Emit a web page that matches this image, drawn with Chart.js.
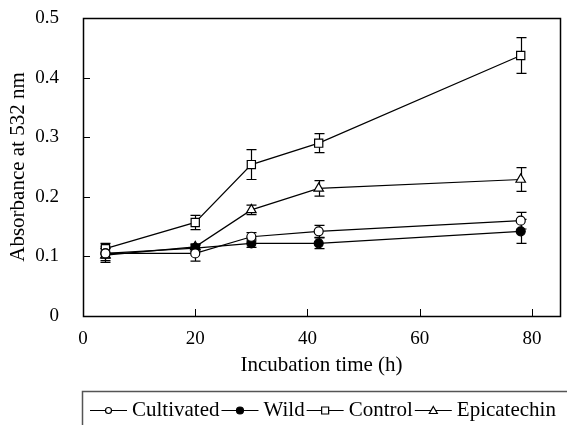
<!DOCTYPE html>
<html>
<head>
<meta charset="utf-8">
<script src="https://cdn.jsdelivr.net/npm/chart.js@4"></script>
<style>
  html, body { margin: 0; padding: 0; background: #fff; }
  #wrap { width: 567px; height: 425px; }
</style>
</head>
<body>
<div id="wrap"><canvas id="absChart" width="567" height="425"></canvas></div>
<script>
// Incubation times (h)
const hours = [4, 20, 30, 42, 78];

// Absorbance at 532 nm, with error bars
const cultivated = [0.105, 0.105, 0.133, 0.142, 0.160];
const cultivatedErr = [0.012, 0.013, 0.007, 0.010, 0.014];
const wild = [0.105, 0.114, 0.122, 0.122, 0.142];
const wildErr = [0.008, 0.006, 0.007, 0.009, 0.020];
const control = [0.113, 0.157, 0.254, 0.290, 0.437];
const controlErr = [0.009, 0.012, 0.025, 0.016, 0.030];
const epicatechin = [0.102, 0.116, 0.178, 0.214, 0.229];
const epicatechinErr = [0.012, 0.005, 0.008, 0.013, 0.020];

const seriesNames = ["Cultivated", "Wild", "Control", "Epicatechin"];
const xTicks = [0, 20, 40, 60, 80];
const yTicks = [0, 0.1, 0.2, 0.3, 0.4, 0.5];

const FONT = "'Liberation Serif', 'Times New Roman', serif";

function toPoints(ys) {
    return hours.map(function (h, i) { return { x: h, y: ys[i] }; });
}

function series(label, ys, errs, style, radius, fill) {
    return {
        label: label,
        data: toPoints(ys),
        errors: errs,
        borderColor: "#000",
        borderWidth: 1.2,
        pointStyle: style,
        pointRadius: radius,
        pointBackgroundColor: fill,
        pointBorderColor: "#000",
        pointBorderWidth: 1.2,
        showLine: true,
        fill: false,
        tension: 0
    };
}

// error bars, frame with inward ticks, and the boxed legend underneath
const extras = {
    id: "extras",
    beforeDatasetsDraw(chart) {
        const ctx = chart.ctx;
        const xs = chart.scales.x, ys = chart.scales.y;
        ctx.save();
        ctx.strokeStyle = "#000";
        ctx.lineWidth = 1.2;
        chart.data.datasets.forEach(function (ds) {
            ds.data.forEach(function (p, i) {
                const e = ds.errors[i];
                const px = Math.round(xs.getPixelForValue(p.x)) + 0.5;
                const top = ys.getPixelForValue(p.y + e);
                const bot = ys.getPixelForValue(p.y - e);
                ctx.beginPath();
                ctx.moveTo(px, top); ctx.lineTo(px, bot);
                ctx.moveTo(px - 5, top); ctx.lineTo(px + 5, top);
                ctx.moveTo(px - 5, bot); ctx.lineTo(px + 5, bot);
                ctx.stroke();
            });
        });
        ctx.restore();
    },
    afterDraw(chart) {
        const ctx = chart.ctx;
        const a = chart.chartArea;
        const xs = chart.scales.x, ys = chart.scales.y;
        ctx.save();
        ctx.strokeStyle = "#000";
        ctx.lineWidth = 1.5;
        ctx.strokeRect(a.left + 0.5, a.top + 0.5, a.right - a.left, a.bottom - a.top);
        ctx.lineWidth = 1;
        ctx.beginPath();
        yTicks.forEach(function (v) {
            const y = Math.round(ys.getPixelForValue(v)) + 0.5;
            ctx.moveTo(a.left, y); ctx.lineTo(a.left + 7, y);
        });
        xTicks.forEach(function (v) {
            const x = Math.round(xs.getPixelForValue(v)) + 0.5;
            ctx.moveTo(x, a.bottom); ctx.lineTo(x, a.bottom - 7);
        });
        ctx.stroke();

        // legend box (only top and left edges show)
        ctx.strokeStyle = "#555";
        ctx.lineWidth = 1.5;
        ctx.beginPath();
        ctx.moveTo(82.5, 425); ctx.lineTo(82.5, 391.5); ctx.lineTo(567, 391.5);
        ctx.stroke();

        ctx.font = "21px " + FONT;
        ctx.textBaseline = "middle";
        ctx.fillStyle = "#000";
        ctx.strokeStyle = "#000";
        ctx.lineWidth = 1.2;
        const ly = 410.5;
        let lx = 90;
        chart.data.datasets.forEach(function (ds) {
            ctx.beginPath();
            ctx.moveTo(lx, ly); ctx.lineTo(lx + 37, ly);
            ctx.stroke();
            const cx = lx + 18.5;
            ctx.fillStyle = ds.pointBackgroundColor;
            ctx.beginPath();
            if (ds.pointStyle === "circle") {
                const r = ds.pointBackgroundColor === "#000" ? 3.5 : 3;
                ctx.arc(cx, ly, r, 0, Math.PI * 2);
            } else if (ds.pointStyle === "rect") {
                ctx.rect(cx - 3.5, ly - 3.5, 7, 7);
            } else {
                ctx.moveTo(cx, ly - 4);
                ctx.lineTo(cx + 4, ly + 3);
                ctx.lineTo(cx - 4, ly + 3);
                ctx.closePath();
            }
            ctx.fill();
            ctx.stroke();
            ctx.fillStyle = "#000";
            ctx.fillText(ds.label, lx + 42, ly);
            lx += 42 + ctx.measureText(ds.label).width + 2;
        });
        ctx.restore();
    }
};

new Chart(document.getElementById("absChart"), {
    type: "scatter",
    data: {
        datasets: [
            series(seriesNames[0], cultivated, cultivatedErr, "circle", 4.5, "#fff"),
            series(seriesNames[1], wild, wildErr, "circle", 4.5, "#000"),
            series(seriesNames[2], control, controlErr, "rect", 5.8, "#fff"),
            series(seriesNames[3], epicatechin, epicatechinErr, "triangle", 5.5, "#fff")
        ]
    },
    options: {
        responsive: false,
        animation: false,
        layout: { padding: { left: 0, top: 18, right: 7, bottom: 47 } },
        plugins: {
            legend: { display: false },
            tooltip: { enabled: false }
        },
        scales: {
            x: {
                type: "linear",
                min: 0,
                max: 85,
                grid: { display: false },
                border: { display: false },
                ticks: {
                    stepSize: 20,
                    includeBounds: false,
                    color: "#000",
                    padding: 4,
                    maxRotation: 0,
                    font: { family: FONT, size: 19 }
                },
                title: {
                    display: true,
                    text: "Incubation time (h)",
                    color: "#000",
                    padding: 0,
                    font: { family: FONT, size: 21 }
                },
                afterFit: function (s) {
                    s.height = 62;
                    s.paddingLeft = 0;
                    s.paddingRight = 0;
                }
            },
            y: {
                min: 0,
                max: 0.5,
                grid: { display: false },
                border: { display: false },
                ticks: {
                    stepSize: 0.1,
                    color: "#000",
                    padding: 16,
                    font: { family: FONT, size: 19 }
                },
                title: {
                    display: true,
                    text: "Absorbance at 532 nm",
                    color: "#000",
                    padding: { top: 6, bottom: 0 },
                    font: { family: FONT, size: 21 }
                },
                afterFit: function (s) {
                    s.width = 83;
                    s.paddingTop = 0;
                    s.paddingBottom = 0;
                }
            }
        }
    },
    plugins: [extras]
});
</script>
</body>
</html>
